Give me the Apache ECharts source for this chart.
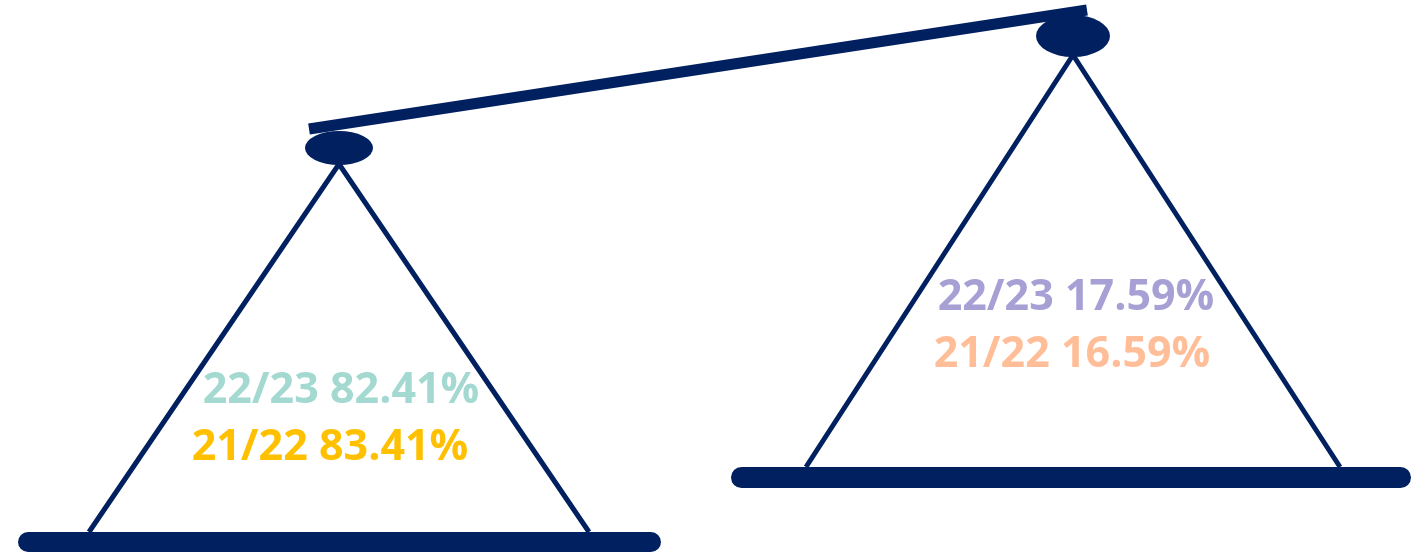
<!DOCTYPE html>
<html>
<head>
<meta charset="utf-8">
<style>
  html, body { margin: 0; padding: 0; background: #fff; }
  #chart { width: 1412px; height: 553px; }
</style>
<script src="https://cdn.jsdelivr.net/npm/echarts@6/dist/echarts.min.js"></script>
</head>
<body>
<div id="chart"></div>
<script>
// share of total per side of the scale
const seasons = ["22/23", "21/22"];
const leftShare = [82.41, 83.41];
const rightShare = [17.59, 16.59];
const leftColors = ["#a3d9d0", "#ffc000"];
const rightColors = ["#a6a0d4", "#ffbe98"];

const NAVY = "#002060";
const FONT = "bold 43px 'Open Sans', Lato, sans-serif";

const chart = echarts.init(document.getElementById("chart"));

// one pan of the scale: knob, triangle, base bar
function pan(cx, cy, rx, ry, apexY, baseL, baseR, baseY, barX0, barX1, barH) {
  return [
    {
      type: "polyline",
      shape: { points: [[baseL, baseY], [cx, apexY], [baseR, baseY]] },
      style: { stroke: NAVY, lineWidth: 5, fill: null, lineJoin: "miter" },
    },
    {
      type: "circle",
      x: cx,
      y: cy,
      scaleX: rx / ry,
      shape: { cx: 0, cy: 0, r: ry },
      style: { fill: NAVY },
    },
    {
      type: "rect",
      shape: { x: barX0, y: baseY, width: barX1 - barX0, height: barH, r: barH / 2 },
      style: { fill: NAVY },
    },
  ];
}

function labels(values, colors, centers, yMid, gap) {
  return values.map((v, i) => ({
    type: "text",
    x: centers[i],
    y: yMid + i * gap,
    style: {
      text: seasons[i] + " " + v.toFixed(2) + "%",
      font: FONT,
      fill: colors[i],
      align: "center",
      verticalAlign: "middle",
    },
  }));
}

chart.setOption({
  animation: false,
  backgroundColor: "#fff",
  graphic: [
    {
      type: "line",
      shape: { x1: 309, y1: 129, x2: 1087, y2: 10 },
      style: { stroke: NAVY, lineWidth: 11, lineCap: "butt" },
    },
    ...pan(339, 148, 34, 17, 164, 89, 589, 532, 18, 661, 20),
    ...pan(1073, 36, 37, 21, 55, 806, 1340, 467, 731, 1411, 21),
    ...labels(leftShare, leftColors, [341, 330], 391, 57),
    ...labels(rightShare, rightColors, [1076, 1072], 298, 57),
  ],
});
</script>
</body>
</html>
